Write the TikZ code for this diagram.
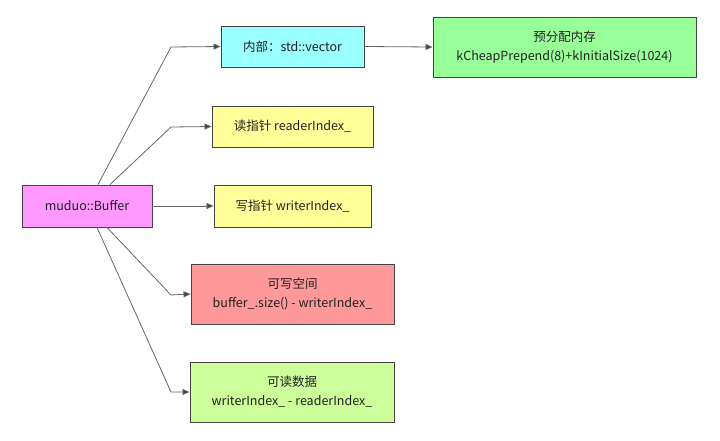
\documentclass[tikz,border=0pt]{standalone}
\usepackage{fontspec}
\setmainfont{Noto Sans CJK SC}
\usepackage{tikz}
\usetikzlibrary{arrows.meta}

\definecolor{pinkfill}{HTML}{FF99FF}
\definecolor{cyanfill}{HTML}{99FFFF}
\definecolor{greenfill}{HTML}{99FF99}
\definecolor{yellowfill}{HTML}{FFFF99}
\definecolor{redfill}{HTML}{FF9999}
\definecolor{limefill}{HTML}{CCFF99}
\definecolor{edgegray}{HTML}{444444}
\definecolor{linegray}{HTML}{666666}
\definecolor{textgray}{HTML}{222222}

\begin{document}
\begin{tikzpicture}[x=1pt, y=-1pt, font=\fontsize{12.5}{19}\selectfont,
	box/.style={draw=edgegray, line width=0.9pt, align=center, inner sep=0pt, text=textgray},
	link/.style={draw=linegray, line width=0.8pt, -{Triangle[length=7pt, width=6pt, fill=edgegray]}}]
	\useasboundingbox (0,0) rectangle (720,440);
	% boxes
	\node[box, fill=pinkfill, minimum width=130, minimum height=42] (buf) at (87,206) {muduo::Buffer};
	\node[box, fill=cyanfill, minimum width=143, minimum height=41] (vec) at (292.5,46.5) {内部：std::vector};
	\node[box, fill=greenfill, minimum width=263, minimum height=60] (pre) at (564.5,47) {预分配内存\\kCheapPrepend(8)+kInitialSize(1024)};
	\node[box, fill=yellowfill, minimum width=161, minimum height=41] (rd) at (292.5,126.5) {读指针 readerIndex\_};
	\node[box, fill=yellowfill, minimum width=157, minimum height=42] (wr) at (292.5,206) {写指针 writerIndex\_};
	\node[box, fill=redfill, minimum width=203, minimum height=60] (wsp) at (292.5,294) {可写空间\\buffer\_.size() - writerIndex\_};
	\node[box, fill=limefill, minimum width=204, minimum height=60] (rdat) at (292,392) {可读数据\\writerIndex\_ - readerIndex\_};
	
	% connectors
	\draw[link] ([xshift=11pt]buf.north) -- (171,47) -- (vec.west);
	\draw[link] ([xshift=23pt]buf.north) -- (171,127) -- (rd.west);
	\draw[link] (buf.east) -- (wr.west);
	\draw[link] ([xshift=20pt]buf.south) -- (171,295) -- (wsp.west);
	\draw[link] ([xshift=10pt]buf.south) -- (171,392) -- (rdat.west);
	\draw[link] (vec.east) -- (pre.west);
\end{tikzpicture}
\end{document}
